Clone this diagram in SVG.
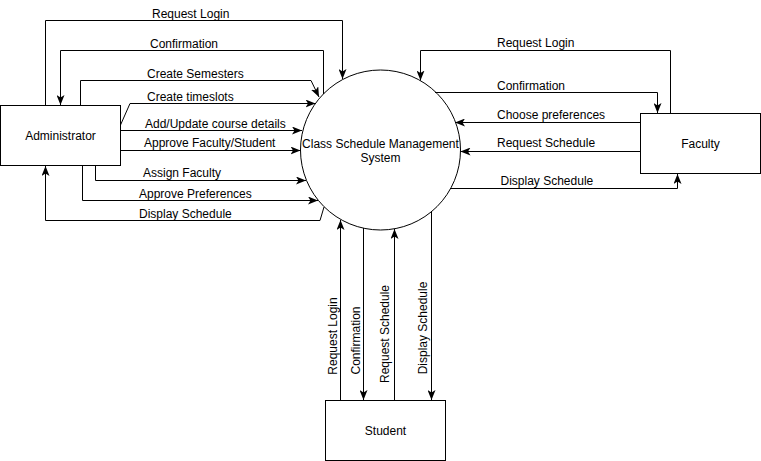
<svg xmlns="http://www.w3.org/2000/svg" width="761" height="461" viewBox="0 0 761 461">
<style>
.n{fill:#fff;stroke:#000;stroke-width:1}
.c path{fill:none;stroke:#000;stroke-width:1;marker-end:url(#a)}
text{font-family:"Liberation Sans",Arial,sans-serif;font-size:12px;fill:#000}
.m{text-anchor:middle}
</style>
<defs>
<marker id="a" viewBox="0 0 10 8" refX="10" refY="4" markerWidth="10" markerHeight="8" orient="auto" markerUnits="userSpaceOnUse">
<path d="M0,0 L10,4 L0,8 L2.5,4 z" fill="#000"/>
</marker>
</defs>
<rect width="761" height="461" fill="#fff"/>
<g id="system">
<circle class="n" cx="380.5" cy="150" r="80"/>
<text class="m" x="380.5" y="147.5">Class Schedule Management</text>
<text class="m" x="380.5" y="161.5">System</text>
</g>
<g id="administrator">
<rect class="n" x="0.5" y="105.5" width="120" height="60"/>
<text class="m" x="60.5" y="139.5">Administrator</text>
</g>
<g id="faculty">
<rect class="n" x="640.5" y="113.5" width="120" height="60"/>
<text class="m" x="700.5" y="147.5">Faculty</text>
</g>
<g id="student">
<rect class="n" x="325.5" y="400.5" width="120" height="60"/>
<text class="m" x="385.5" y="434.5">Student</text>
</g>
<g id="connectors" class="c">
<path d="M45.5,105 V20.5 H342.5 V79"/>
<path d="M323.5,94 V50.5 H60.5 V105"/>
<path d="M80.5,105 V80.5 H311 L319,97"/>
<path d="M120.5,125 L130,103.5 H315.5"/>
<path d="M120.5,130.5 H302"/>
<path d="M120.5,150.5 H300.5"/>
<path d="M95.5,165.5 V180.5 H306"/>
<path d="M82.5,165.5 V200.5 H318"/>
<path d="M324,207 L320,220.5 H45.5 V166"/>
<path d="M670.5,113 V50.5 H420.5 V80.5"/>
<path d="M435,92.5 H657.5 V113"/>
<path d="M640,122.5 H455"/>
<path d="M640,151.5 H460.5"/>
<path d="M450,188.5 H677.5 V174"/>
<path d="M340.5,400 V220"/>
<path d="M363.5,228 V400"/>
<path d="M394.5,400 V229"/>
<path d="M431.5,211 V400"/>
</g>
<g id="labels">
<text x="152" y="18">Request Login</text>
<text x="150" y="47.5">Confirmation</text>
<text x="147" y="77.5">Create Semesters</text>
<text x="147" y="100.5">Create timeslots</text>
<text x="145" y="127.5">Add/Update course details</text>
<text x="144" y="147">Approve Faculty/Student</text>
<text x="143" y="177">Assign Faculty</text>
<text x="139" y="197.5">Approve Preferences</text>
<text x="139" y="217.5">Display Schedule</text>
<text x="497" y="47">Request Login</text>
<text x="497" y="90">Confirmation</text>
<text x="497" y="118.5">Choose preferences</text>
<text x="497" y="147">Request Schedule</text>
<text x="500.5" y="185">Display Schedule</text>
<text class="m" transform="translate(337,336) rotate(-90)">Request Login</text>
<text class="m" transform="translate(360,340.5) rotate(-90)">Confirmation</text>
<text class="m" transform="translate(389,334) rotate(-90)">Request Schedule</text>
<text class="m" transform="translate(427,328) rotate(-90)">Display Schedule</text>
</g>
</svg>
